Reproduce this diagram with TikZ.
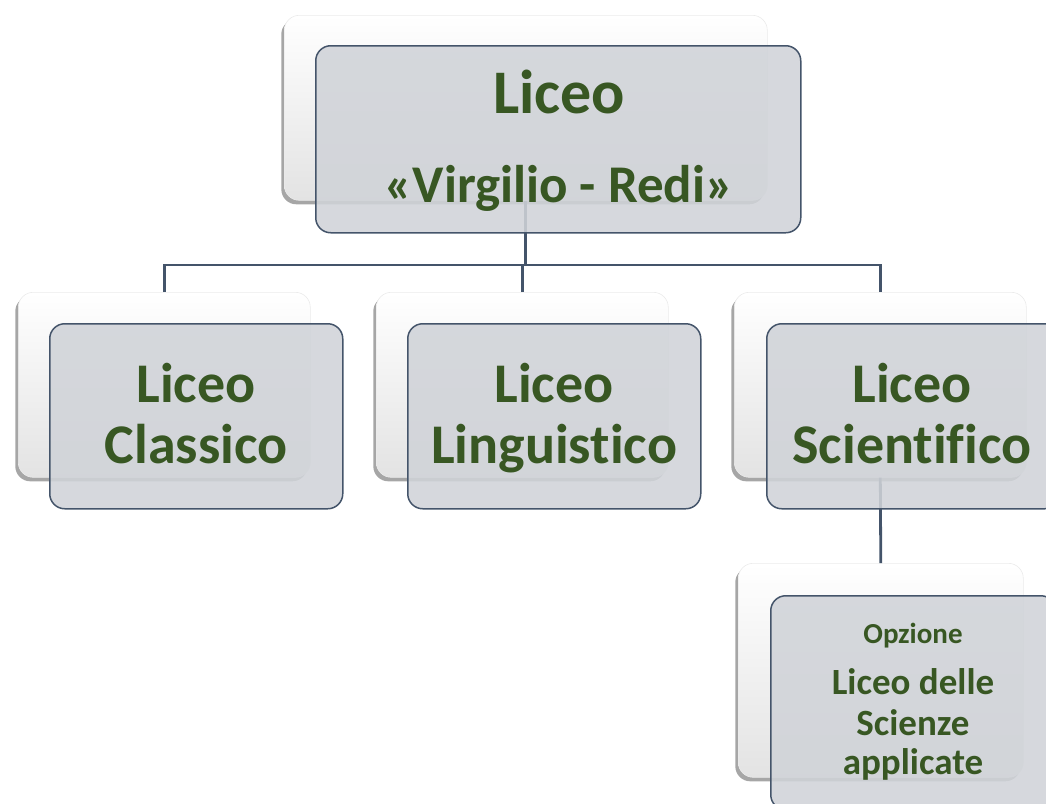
\documentclass[tikz,border=0pt]{standalone}
\usepackage{fontspec}
\setmainfont{Carlito}[Ligatures=NoCommon, RawFeature=-liga]
\usetikzlibrary{shadows}
\definecolor{txtgreen}{HTML}{385723}
\definecolor{edgecol}{HTML}{44546A}
\definecolor{frontfill}{RGB}{208,211,216}
\tikzset{
  backbox/.style={rounded corners=15pt, draw=black!8, line width=0.6pt,
    top color=white, middle color=white, bottom color=black!11,
    inner sep=0pt, anchor=north west,
    drop shadow={shadow xshift=-3pt, shadow yshift=-4pt, opacity=0.35, fill=black}},
  frontbox/.style={rounded corners=15pt, draw=edgecol, line width=1.5pt,
    fill=frontfill, fill opacity=0.88, inner sep=0pt, anchor=north west},
  conn/.style={draw=edgecol, line width=2.8pt},
  lbl/.style={text=txtgreen, font=\bfseries, anchor=base, inner sep=0pt}
}
\begin{document}
\begin{tikzpicture}[x=1pt,y=-1pt]
\useasboundingbox (0,0) rectangle (1046,803);
\clip (0,0) rectangle (1046,803);
% junction of the tree
\coordinate (j) at (522,265);
% back boxes
\node[backbox, minimum width=483pt, minimum height=185pt] (topback) at (284,15) {};
\node[backbox, minimum width=292pt, minimum height=185pt] (clsback) at (18,292) {};
\node[backbox, minimum width=292pt, minimum height=185pt] (linback) at (376,292) {};
\node[backbox, minimum width=292pt, minimum height=185pt] (sciback) at (734,292) {};
\node[backbox, minimum width=285pt, minimum height=214pt] (optback) at (738,563) {};
% connectors
\draw[conn] (topback.south) -- (topback.south |- j);
\draw[conn] (clsback.north) -- (clsback.north |- j) -- (sciback.north |- j) -- (sciback.north);
\draw[conn] (linback.north) -- (linback.north |- j);
\draw[conn] (sciback.south) -- (optback.north);
% front boxes
\node[frontbox, minimum width=485pt, minimum height=187pt] (topfront) at (315,45) {};
\node[frontbox, minimum width=293pt, minimum height=185pt] (clsfront) at (49,323) {};
\node[frontbox, minimum width=293pt, minimum height=185pt] (linfront) at (407,323) {};
\node[frontbox, minimum width=293pt, minimum height=185pt] (scifront) at (766,323) {};
\node[frontbox, minimum width=285pt, minimum height=214pt] (optfront) at (770,595) {};
% texts
\node[lbl, font=\bfseries\fontsize{62}{62}\selectfont] (t1) at (559,113) {Liceo};
\node[lbl, font=\bfseries\fontsize{53}{53}\selectfont] (t2) at (559,202) {«Virgilio - Redi»};
\node[lbl, font=\bfseries\fontsize{56}{56}\selectfont] (c1) at (196,402) {Liceo};
\node[lbl, font=\bfseries\fontsize{56}{56}\selectfont] (c2) at (196,463) {Classico};
\node[lbl, font=\bfseries\fontsize{56}{56}\selectfont] (l1) at (554,402) {Liceo};
\node[lbl, font=\bfseries\fontsize{56}{56}\selectfont] (l2) at (554,463) {Linguistico};
\node[lbl, font=\bfseries\fontsize{56}{56}\selectfont] (s1) at (912,402) {Liceo};
\node[lbl, font=\bfseries\fontsize{56}{56}\selectfont] (s2) at (912,463) {Scientifico};
\node[lbl, font=\bfseries\fontsize{29}{29}\selectfont] (o1) at (913,643) {Opzione};
\node[lbl, font=\bfseries\fontsize{37}{37}\selectfont] (o2) at (913,694) {Liceo delle};
\node[lbl, font=\bfseries\fontsize{37}{37}\selectfont] (o3) at (913,735) {Scienze};
\node[lbl, font=\bfseries\fontsize{37}{37}\selectfont] (o4) at (913,774) {applicate};
\end{tikzpicture}
\end{document}
